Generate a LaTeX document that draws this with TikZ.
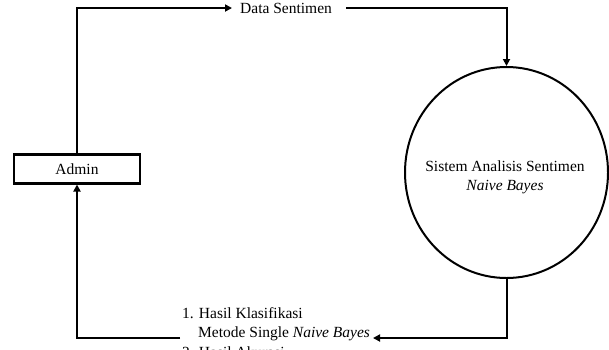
\documentclass[tikz,border=0pt]{standalone}
\usepackage{fontspec}
\setmainfont{Liberation Serif}
\usetikzlibrary{arrows.meta,shapes.geometric}
\begin{document}
\begin{tikzpicture}[x=1pt,y=-1pt,
  every node/.style={font=\fontsize{15.5}{20}\selectfont},
  entitybox/.style={draw,line width=2.5pt,minimum width=126pt,minimum height=29pt,inner sep=0pt},
  procbubble/.style={draw,ellipse,line width=2pt,minimum width=203pt,minimum height=211pt,inner sep=0pt},
  lbl/.style={inner sep=0pt},
  flow/.style={line width=2pt,-{Triangle[length=7pt,width=7pt]}}]
\clip (0,0) rectangle (609,349);
\fill[white] (0,0) rectangle (609,349);
% nodes
\node[entitybox] (admin) at (77,168.75) {Admin};
\node[procbubble] (proc) at (506.5,172.5) {};
\node[lbl,anchor=base] (proctxt) at (505,171) {Sistem Analisis Sentimen};
\node[lbl,anchor=base] (proctxt2) at (505,190) {\textit{Naive Bayes}};
\node[lbl,anchor=base west] (ds) at (240,13.5) {Data Sentimen};
\node[lbl,anchor=base west] (hk1) at (182,318) {1. Hasil Klasifikasi};
\node[lbl,anchor=base west] (hk2) at (198,337) {Metode Single \textit{Naive Bayes}};
\node[lbl,anchor=base west] (hk3) at (182,357) {2. Hasil Akurasi};
% connector ends
\coordinate (dsin) at (232,8);
\coordinate (dsout) at (346,8);
\coordinate (hkin) at (373,338);
\coordinate (hkout) at (180,338);
% connectors
\draw[flow] (admin.north) |- (dsin);
\draw[flow] (dsout) -| (proc.north);
\draw[flow] (proc.south) |- (hkin);
\draw[flow] (hkout) -| (admin.south);
\end{tikzpicture}
\end{document}
